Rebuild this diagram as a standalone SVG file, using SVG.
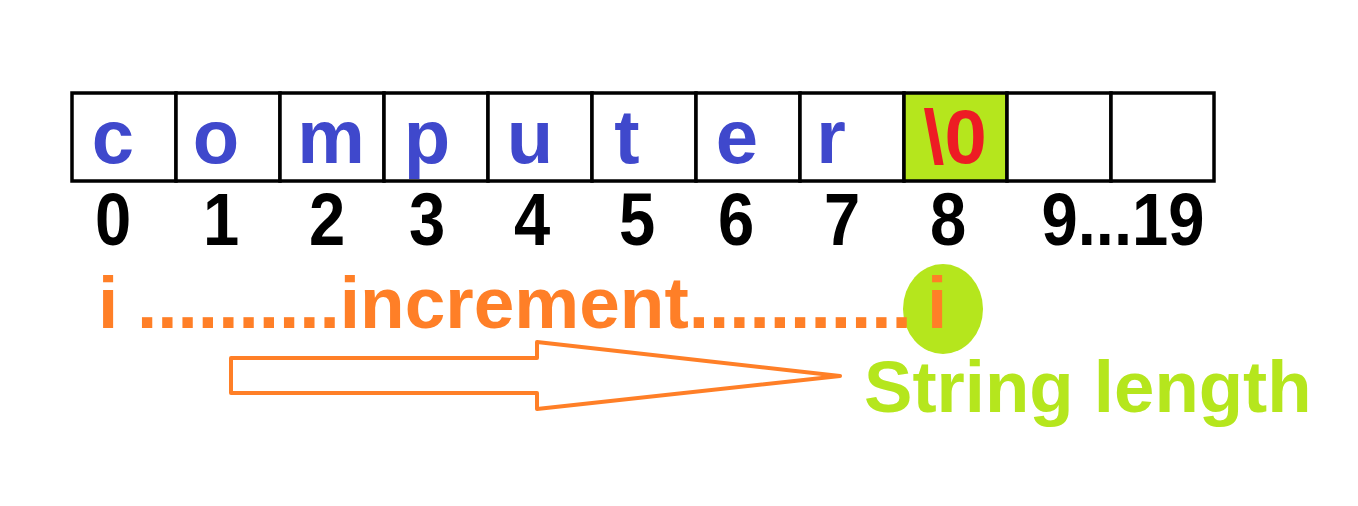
<svg xmlns="http://www.w3.org/2000/svg" width="1358" height="506" viewBox="0 0 1358 506">
<style>
.cell{fill:#ffffff;stroke:#000000;stroke-width:3.5}
.hl{fill:#b5e61d}
.ch{font-family:"Liberation Sans",Arial,sans-serif;font-weight:bold;font-size:76px;fill:#3f48cc;text-anchor:middle}
.nul{fill:#ed1c24}
.num{font-family:"Liberation Sans",Arial,sans-serif;font-weight:bold;font-size:74px;fill:#000000;text-anchor:middle}
.inc{font-family:"Liberation Sans",Arial,sans-serif;font-weight:bold;font-size:73px;fill:#ff7f27}
.len{font-family:"Liberation Sans",Arial,sans-serif;font-weight:bold;font-size:72.6px;fill:#b5e61d}
.arrow{fill:#ffffff;stroke:#ff7f27;stroke-width:4;stroke-linejoin:round}
</style>
<rect width="1358" height="506" fill="#ffffff"/>
<g id="array">
<rect class="cell" x="72" y="93" width="104" height="88"/>
<rect class="cell" x="176" y="93" width="104" height="88"/>
<rect class="cell" x="280" y="93" width="104" height="88"/>
<rect class="cell" x="384" y="93" width="104" height="88"/>
<rect class="cell" x="488" y="93" width="104" height="88"/>
<rect class="cell" x="592" y="93" width="104" height="88"/>
<rect class="cell" x="696" y="93" width="104" height="88"/>
<rect class="cell" x="800" y="93" width="104" height="88"/>
<rect class="cell hl" x="904" y="93" width="103" height="88"/>
<rect class="cell" x="1007" y="93" width="104" height="88"/>
<rect class="cell" x="1111" y="93" width="103" height="88"/>
<text class="ch" x="113" y="163">c</text>
<text class="ch" x="216" y="163">o</text>
<text class="ch" x="331" y="163">m</text>
<text class="ch" x="427" y="163">p</text>
<text class="ch" x="530" y="163">u</text>
<text class="ch" x="627" y="163">t</text>
<text class="ch" x="737" y="163">e</text>
<text class="ch" x="831" y="163">r</text>
<text class="ch nul" x="955" y="163">\0</text>
</g>
<g id="indices">
<text class="num" transform="translate(113,245) scale(0.88,1)">0</text>
<text class="num" transform="translate(221,245) scale(0.88,1)">1</text>
<text class="num" transform="translate(327,245) scale(0.88,1)">2</text>
<text class="num" transform="translate(427,245) scale(0.88,1)">3</text>
<text class="num" transform="translate(532,245) scale(0.88,1)">4</text>
<text class="num" transform="translate(637,245) scale(0.88,1)">5</text>
<text class="num" transform="translate(736,245) scale(0.88,1)">6</text>
<text class="num" transform="translate(842,245) scale(0.88,1)">7</text>
<text class="num" transform="translate(948,245) scale(0.88,1)">8</text>
<text class="num" transform="translate(1123,245) scale(0.88,1)">9...19</text>
</g>
<g id="pointer">
<ellipse cx="943" cy="309" rx="40" ry="45" fill="#b5e61d"/>
<text class="inc" y="328"><tspan x="98">i </tspan><tspan x="137">..........increment...........</tspan><tspan x="927">i</tspan></text>
</g>
<g id="connectors">
<polygon class="arrow" points="231,358 537,358 537,342 840,376 537,409 537,393 231,393"/>
</g>
<g id="label">
<text class="len" x="864" y="412">String length</text>
</g>
</svg>
